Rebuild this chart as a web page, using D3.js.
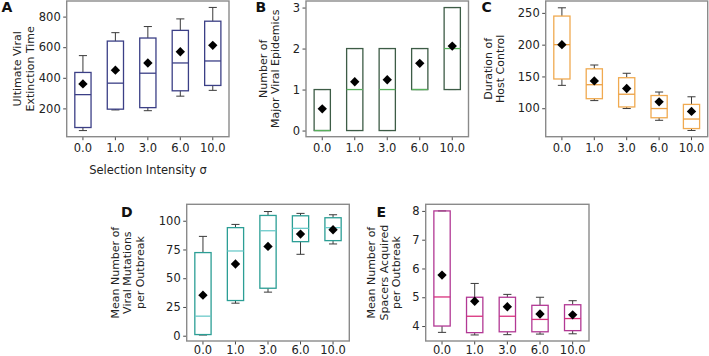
<!DOCTYPE html>
<html>
<head>
<meta charset="utf-8">
<script src="https://cdn.jsdelivr.net/npm/d3@7/dist/d3.min.js"></script>
<style>
  body { margin: 0; background: #fff; }
  svg { display: block; font-family: "DejaVu Sans", sans-serif; }
</style>
</head>
<body>
<svg id="chart" width="709" height="356"></svg>
<script>

// selection intensity categories (shared by all panels)
var sigmas = ['0.0', '1.0', '3.0', '6.0', '10.0'];

// box stats per sigma: [whisker low, q1, median, q3, whisker high]
var extinctionBoxes = [[55, 75, 290, 435, 545], [190, 195, 365, 640, 695], [185, 205, 430, 660, 735], [280, 315, 497, 710, 785], [318, 350, 510, 770, 860]];
var extinctionMeans = [360, 450, 497, 570, 612];
var extinctionTicks = [200, 400, 600, 800];

var epidemicBoxes = [[0, 0, 0, 1, 1], [0, 0, 1, 2, 2], [0, 0, 1, 2, 2], [1, 1, 1, 2, 2], [1, 1, 2, 3, 3]];
var epidemicMeans = [0.53, 1.19, 1.24, 1.64, 2.06];
var epidemicTicks = [0, 1, 2, 3];

var controlBoxes = [[136, 146, 200, 245, 258], [112, 115, 137, 162, 168], [99.5, 102, 122, 148, 155], [81, 85, 99.5, 120, 125.5], [65, 68, 83, 106, 118]];
var controlMeans = [200, 143, 131, 110, 95];
var controlTicks = [100, 150, 200, 250];

var mutationBoxes = [[0.6, 1, 17, 72.3, 86.4], [28.3, 30.6, 73.7, 94, 96.8], [37.9, 41.3, 91.3, 104.6, 108], [70.8, 81.8, 93.4, 104.3, 106.4], [79.8, 82.7, 94, 102.6, 105.2]];
var mutationMeans = [35.3, 62.4, 77.7, 88.4, 92.2];
var mutationTicks = [0, 25, 50, 75, 100];

var spacerBoxes = [[3.78, 4.0, 5.01, 8.0, 8.0], [3.69, 3.77, 4.34, 5.0, 5.48], [3.70, 3.8, 4.34, 5.0, 5.1], [3.72, 3.8, 4.23, 4.72, 5.0], [3.73, 3.84, 4.26, 4.74, 4.88]];
var spacerMeans = [5.77, 4.86, 4.67, 4.42, 4.39];
var spacerTicks = [4, 5, 6, 7, 8];

var svg = d3.select('#chart');

var panels = [
	{letter: 'A', boxes: extinctionBoxes, means: extinctionMeans, ticks: extinctionTicks, domain: [15, 902],
		x0: 66.7, x1: 229, y0: 1, y1: 136.7, box: '#3b3f86', med: '#3b3f86', pad: 4,
		label: ['Ultimate Viral', 'Extinction Time'], labelX: [17.5, 30], letterX: 1.5, letterY: 12},
	{letter: 'B', boxes: epidemicBoxes, means: epidemicMeans, ticks: epidemicTicks, domain: [-0.15, 3.16],
		x0: 306, x1: 468.5, y0: 1, y1: 136.7, box: '#3d5c46', med: '#58b05c', pad: 4,
		label: ['Number of', 'Major Viral Epidemics'], labelX: [263, 275], letterX: 255.5, letterY: 12},
	{letter: 'C', boxes: controlBoxes, means: controlMeans, ticks: controlTicks, domain: [55.2, 268.7],
		x0: 545.7, x1: 707.7, y0: 1, y1: 136.7, box: '#f0aa50', med: '#eba044', pad: 4,
		label: ['Duration of', 'Host Control'], labelX: [488, 500.5], letterX: 481.5, letterY: 12},
	{letter: 'D', boxes: mutationBoxes, means: mutationMeans, ticks: mutationTicks, domain: [-4.6, 114.3],
		x0: 186.7, x1: 349.3, y0: 204.3, y1: 341, box: '#2b9e95', med: '#6ccaca', pad: 1.5,
		label: ['Mean Number of', 'Viral Mutations', 'per Outbreak'], labelX: [115, 127.5, 140], letterX: 121, letterY: 217},
	{letter: 'E', boxes: spacerBoxes, means: spacerMeans, ticks: spacerTicks, domain: [3.48, 8.23],
		x0: 425.7, x1: 589, y0: 204.3, y1: 341, box: '#b23894', med: '#d8307c', pad: 1.5,
		label: ['Mean Number of', 'Spacers Acquired', 'per Outbreak'], labelX: [371.5, 384, 396.5], letterX: 376.5, letterY: 217}
];

panels.forEach(function(p){
	var x = d3.scaleBand().domain(sigmas).range([p.x0, p.x1]);
	var y = d3.scaleLinear().domain(p.domain).range([p.y1, p.y0]);
	var g = svg.append('g');
	var bw = x.bandwidth() * 0.5;
	var cw = x.bandwidth() * 0.25;

	var rows = p.boxes.map(function(b, i){
		return {k: sigmas[i], lo: b[0], q1: b[1], med: b[2], q3: b[3], hi: b[4], mean: p.means[i]};
	});

	// axes
	var ya = g.append('g').attr('transform', 'translate(' + p.x0 + ',0)')
		.call(d3.axisLeft(y).tickValues(p.ticks).tickFormat(d3.format('d')).tickSize(3.5).tickPadding(2.5));
	var xa = g.append('g').attr('transform', 'translate(0,' + p.y1 + ')')
		.call(d3.axisBottom(x).tickSize(3.5).tickPadding(p.pad));
	[ya, xa].forEach(function(a){
		a.select('.domain').remove();
		a.selectAll('line').attr('stroke', '#333').attr('stroke-width', 0.9);
		a.selectAll('text').attr('fill', '#222').style('font-size', '11.5px').style('font-family', '"DejaVu Sans", sans-serif');
	});

	var items = g.selectAll('.bx').data(rows).enter().append('g').attr('class', 'bx');
	var cx = function(d){ return x(d.k) + x.bandwidth() / 2; };

	// whiskers
	items.append('line')
		.attr('x1', cx).attr('x2', cx)
		.attr('y1', function(d){ return y(d.q3); }).attr('y2', function(d){ return y(d.hi); })
		.attr('stroke', '#3a3a3a').attr('stroke-width', 1);
	items.append('line')
		.attr('x1', cx).attr('x2', cx)
		.attr('y1', function(d){ return y(d.q1); }).attr('y2', function(d){ return y(d.lo); })
		.attr('stroke', '#3a3a3a').attr('stroke-width', 1);
	['lo', 'hi'].forEach(function(key){
		items.append('line')
			.attr('x1', function(d){ return cx(d) - cw / 2; }).attr('x2', function(d){ return cx(d) + cw / 2; })
			.attr('y1', function(d){ return y(d[key]); }).attr('y2', function(d){ return y(d[key]); })
			.attr('stroke', '#3a3a3a').attr('stroke-width', 1);
	});

	// boxes
	items.append('rect')
		.attr('x', function(d){ return cx(d) - bw / 2; })
		.attr('y', function(d){ return y(d.q3); })
		.attr('width', bw)
		.attr('height', function(d){ return y(d.q1) - y(d.q3); })
		.attr('fill', 'none')
		.attr('stroke', p.box)
		.attr('stroke-width', 1.3);

	// medians
	items.append('line')
		.attr('x1', function(d){ return cx(d) - bw / 2; }).attr('x2', function(d){ return cx(d) + bw / 2; })
		.attr('y1', function(d){ return y(d.med); }).attr('y2', function(d){ return y(d.med); })
		.attr('stroke', p.med).attr('stroke-width', 1.3);

	// means
	items.append('path')
		.attr('d', d3.symbol().type(d3.symbolDiamond2).size(56))
		.attr('transform', function(d){ return 'translate(' + cx(d) + ',' + y(d.mean) + ')'; })
		.attr('fill', '#000');

	// frame
	g.append('rect')
		.attr('x', p.x0).attr('y', p.y0)
		.attr('width', p.x1 - p.x0).attr('height', p.y1 - p.y0)
		.attr('fill', 'none').attr('stroke', '#8a8a8a').attr('stroke-width', 1.4);

	// y label
	var cy = (p.y0 + p.y1) / 2;
	p.label.forEach(function(line, i){
		g.append('text')
			.attr('transform', 'translate(' + p.labelX[i] + ',' + cy + ') rotate(-90)')
			.attr('dy', '0.35em')
			.attr('text-anchor', 'middle')
			.style('font-size', '11px')
			.attr('fill', '#222')
			.text(line);
	});

	g.append('text')
		.attr('x', p.letterX).attr('y', p.letterY)
		.style('font-size', '14px').style('font-weight', 'bold')
		.attr('fill', '#111')
		.text(p.letter);
});

svg.append('text')
	.attr('x', 148).attr('y', 174)
	.attr('text-anchor', 'middle')
	.style('font-size', '11.5px')
	.attr('fill', '#222')
	.text('Selection Intensity \u03c3');

</script>
</body>
</html>
